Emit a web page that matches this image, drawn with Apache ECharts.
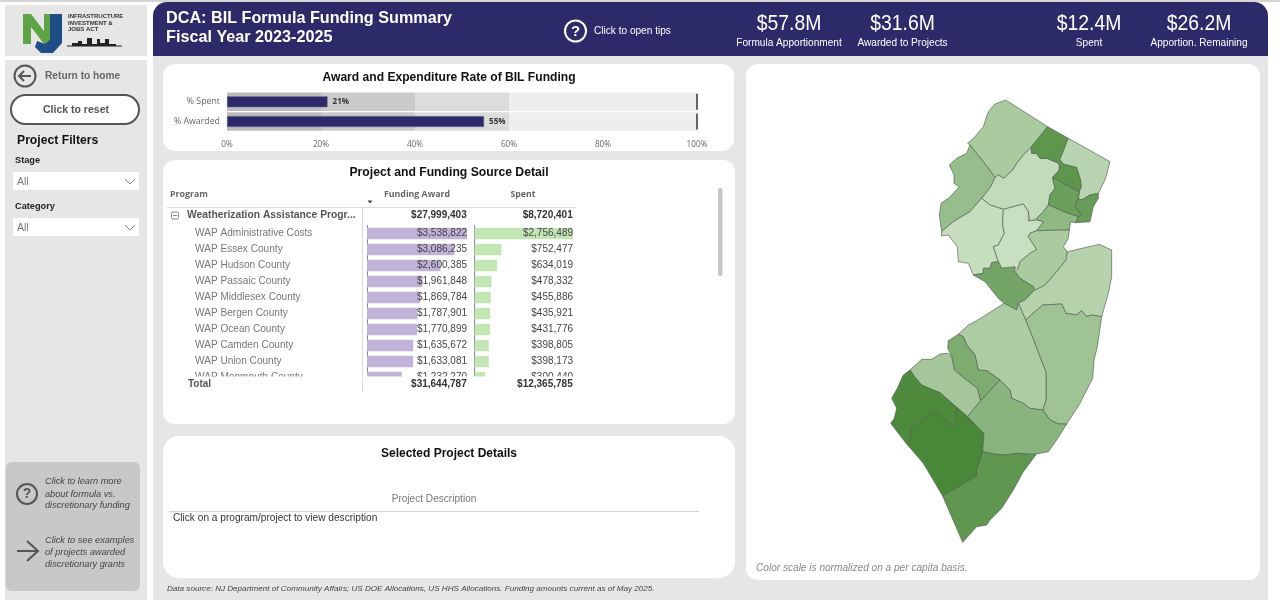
<!DOCTYPE html>
<html>
<head>
<meta charset="utf-8">
<title>DCA: BIL Formula Funding Summary</title>
<script src="https://cdn.jsdelivr.net/npm/echarts@6/dist/echarts.min.js"></script>
<style>
html,body{margin:0;padding:0;background:#fff;}
#chart{width:1280px;height:608px;}
</style>
</head>
<body>
<div id="chart"></div>
<script>
// rate chart
var rateRows = ["% Spent", "% Awarded"];
var rateValues = [21.4, 54.7];
var rateTargets = [100, 100];
var rateBands = [20, 20, 20, 40];

// funding table
var programs = ["WAP Administrative Costs", "WAP Essex County", "WAP Hudson County", "WAP Passaic County",
  "WAP Middlesex County", "WAP Bergen County", "WAP Ocean County", "WAP Camden County", "WAP Union County",
  "WAP Monmouth County"];
var awards = [3538822, 3086235, 2600385, 1961848, 1869784, 1787901, 1770899, 1635672, 1633081, 1232270];
var spent = [2756489, 752477, 634019, 478332, 455886, 435921, 431776, 398805, 398173, 300440];
var groupName = "Weatherization Assistance Progr...";
var groupTotals = [27999403, 8720401];
var grandTotals = [31644787, 12365785];

// headline numbers
var kpiValues = ["$57.8M", "$31.6M", "$12.4M", "$26.2M"];
var kpiNames = ["Formula Apportionment", "Awarded to Projects", "Spent", "Apportion. Remaining"];

var countyNames = ["Sussex", "Warren", "Morris", "Passaic", "Bergen", "Essex", "Hudson", "Union", "Hunterdon", "Somerset",
  "Middlesex", "Mercer", "Monmouth", "Ocean", "Burlington", "Camden", "Gloucester", "Salem", "Cumberland", "Atlantic", "Cape May"];
var countyValues = [24, 38, 5, 82, 13, 72, 75, 44, 2, 0, 24, 65, 15, 32, 21, 58, 28, 95, 98, 48, 81];

// county outlines, in map units (3 units = 1 screen px)
var countyShapes = {
  "Sussex": [[437,30],[500,70],[563,110],[535,145],[513,172],[490,195],[470,220],[458,240],[432,265],[415,255],[405,262],[375,222],[330,165],[323,160],[345,140],[370,110],[378,85],[385,65],[405,42]],
  "Warren": [[330,165],[375,222],[405,262],[395,285],[385,300],[365,325],[330,365],[280,395],[245,425],[238,375],[243,340],[265,325],[280,310],[298,290],[282,280],[282,255],[268,225],[290,205],[320,190]],
  "Morris": [[405,262],[415,255],[432,265],[458,240],[470,220],[490,195],[513,172],[515,190],[530,190],[540,205],[560,205],[585,215],[598,222],[598,240],[578,262],[580,275],[585,295],[570,315],[565,345],[550,365],[530,385],[510,395],[505,365],[490,342],[430,358],[390,345],[365,325],[385,300],[395,285]],
  "Passaic": [[563,110],[625,145],[600,208],[610,222],[650,232],[662,270],[664,290],[658,306],[610,280],[578,262],[598,240],[598,222],[585,215],[560,205],[540,205],[530,190],[515,190],[513,172],[535,145]],
  "Bergen": [[625,145],[750,215],[735,270],[715,310],[690,315],[665,330],[655,325],[658,306],[664,290],[662,270],[650,232],[610,222],[600,208]],
  "Essex": [[578,262],[610,280],[658,306],[655,325],[650,335],[645,348],[663,375],[655,380],[630,372],[600,360],[565,345],[570,315],[585,295],[580,275]],
  "Hudson": [[690,315],[715,310],[715,325],[700,350],[690,395],[647,398],[655,380],[663,375],[645,348],[650,335],[655,325],[665,330]],
  "Union": [[565,345],[600,360],[630,372],[655,380],[647,398],[632,395],[628,420],[530,422],[550,395],[530,390],[530,385],[550,365]],
  "Hunterdon": [[245,425],[280,395],[330,365],[365,325],[390,345],[430,358],[428,405],[433,430],[415,465],[400,470],[415,515],[395,518],[390,535],[370,535],[370,550],[340,555],[325,520],[295,515],[292,470],[265,435],[245,438]],
  "Somerset": [[430,358],[490,342],[505,365],[505,393],[530,390],[550,395],[530,422],[510,430],[505,440],[530,478],[510,490],[480,515],[475,535],[425,535],[415,515],[400,470],[415,465],[433,430],[428,405]],
  "Middlesex": [[530,422],[628,420],[625,445],[610,470],[622,485],[618,510],[590,545],[555,585],[525,602],[520,590],[480,565],[465,545],[475,535],[480,515],[510,490],[530,478],[505,440],[510,430]],
  "Mercer": [[340,555],[370,550],[370,535],[390,535],[395,518],[415,515],[425,535],[465,530],[465,545],[480,565],[520,590],[522,602],[495,630],[475,640],[470,660],[432,640],[415,625],[395,600],[375,575]],
  "Monmouth": [[622,485],[718,463],[755,480],[755,560],[745,610],[725,680],[695,675],[680,680],[665,662],[650,675],[618,670],[605,642],[548,645],[497,690],[475,640],[495,630],[522,602],[525,602],[555,585],[590,545],[618,510]],
  "Ocean": [[497,690],[548,645],[605,642],[618,670],[650,675],[665,662],[680,680],[695,675],[725,680],[712,770],[702,810],[698,865],[660,940],[620,1002],[595,1002],[570,990],[548,960],[558,930],[558,848],[520,748]],
  "Burlington": [[470,660],[475,640],[497,690],[520,748],[558,848],[558,930],[548,960],[510,955],[490,940],[455,925],[450,900],[420,870],[380,842],[355,840],[345,795],[320,765],[310,740],[295,733],[325,705],[350,692],[385,670],[432,640]],
  "Camden": [[295,733],[310,740],[320,765],[345,795],[355,840],[380,842],[420,870],[362,932],[352,895],[320,870],[300,855],[283,840],[275,800],[263,775],[265,752]],
  "Gloucester": [[150,840],[185,808],[215,808],[240,792],[263,790],[275,800],[283,840],[300,855],[320,870],[352,895],[362,932],[323,980],[290,952],[240,908],[215,898],[185,885],[165,862]],
  "Salem": [[150,840],[165,862],[185,885],[215,898],[240,908],[290,952],[285,1012],[220,960],[180,1000],[152,1012],[152,1050],[140,1062],[92,1000],[103,985],[110,955],[95,925],[112,895],[130,855]],
  "Cumberland": [[140,1062],[152,1050],[152,1012],[180,1000],[220,960],[285,1012],[290,952],[323,980],[372,1030],[368,1085],[350,1140],[350,1158],[248,1218],[190,1120]],
  "Atlantic": [[323,980],[362,932],[420,870],[450,900],[455,925],[490,940],[510,955],[548,960],[570,990],[595,1002],[620,1002],[590,1050],[565,1085],[530,1092],[470,1090],[440,1095],[400,1092],[368,1085],[372,1030]],
  "Cape May": [[368,1085],[400,1092],[440,1095],[470,1090],[528,1094],[490,1145],[460,1200],[425,1255],[390,1290],[380,1305],[350,1310],[308,1357],[248,1218],[350,1158],[350,1140]]
};

var FONT = '"Liberation Sans"';
var UIFONT = '"Open Sans"';
var NAVY = "#2d2a69";
var ICON = "#555555";

function money(v) {
  return "$" + v.toLocaleString("en-US");
}

function panel(x, y, w, h, fill, r, z) {
  return { type: "rect", z: z || 0, shape: { x: x, y: y, width: w, height: h, r: r || 0 }, style: { fill: fill } };
}

// y is the middle of the text as it looks on screen
function txt(x, y, text, font, fill, align, z) {
  return {
    type: "text", z: z || 1,
    style: { x: x, y: y + 1, text: text, font: font, fill: fill, textAlign: align || "left", textVerticalAlign: "middle" }
  };
}

function line(points, stroke, width, z) {
  return { type: "polyline", z: z || 1, shape: { points: points }, style: { stroke: stroke, lineWidth: width, fill: null } };
}

function ring(cx, cy, r, stroke, width, fill) {
  return { type: "circle", z: 1, shape: { cx: cx, cy: cy, r: r }, style: { stroke: stroke, lineWidth: width, fill: fill || null } };
}

// build geojson from the outlines, y flipped because geojson is north up
var geoJson = { type: "FeatureCollection", features: [] };
var minX = Infinity, maxX = -Infinity, minY = Infinity, maxY = -Infinity;
countyNames.forEach(function (name) {
  var pts = countyShapes[name].map(function (p) {
    minX = Math.min(minX, p[0]); maxX = Math.max(maxX, p[0]);
    minY = Math.min(minY, p[1]); maxY = Math.max(maxY, p[1]);
    return [p[0], -p[1]];
  });
  pts.push(pts[0]);
  geoJson.features.push({
    type: "Feature", properties: { name: name },
    geometry: { type: "Polygon", coordinates: [pts] }
  });
});
echarts.registerMap("nj", geoJson);

var elements = [
  // page background
  panel(0, 0, 1280, 2, "#d4d4d4"),
  panel(5, 5, 142, 51, "#e6e6e6"),
  panel(5, 60, 142, 540, "#e6e6e6"),
  panel(153, 40, 1115, 560, "#e6e6e6"),
  panel(153, 2, 1115, 54, NAVY, [14, 14, 0, 0]),
  // cards
  panel(163, 64, 571, 87, "#ffffff", 12),
  panel(163, 160, 572, 264, "#ffffff", 12),
  panel(163, 436, 572, 142, "#ffffff", 16),
  panel(746, 64, 514, 516, "#ffffff", 12),

  // logo
  { type: "polygon", z: 1, shape: { points: [[23,14],[31,14],[44,31],[44,14],[50,14],[50,44],[44,44],[31,27],[31,44],[23,44]] }, style: { fill: "#5fa347" } },
  { type: "polygon", z: 1, shape: { points: [[50,14],[62,14],[62,43],[53,53],[41,53],[35,47],[37,41],[45,44],[50,40]] }, style: { fill: "#1f4e87" } },
  txt(68, 15, "INFRASTRUCTURE", 'bold 6px ' + FONT, "#333333"),
  txt(68, 22, "INVESTMENT &", 'bold 6px ' + FONT, "#333333"),
  txt(68, 28.5, "JOBS ACT", 'bold 6px ' + FONT, "#333333"),
  line([[67,46],[122,46]], "#222222", 1),
  { type: "polygon", z: 1, shape: { points: [[72,46],[72,43],[78,43],[78,41],[82,41],[82,44],[87,44],[87,38],[92,38],[92,44],[97,44],[97,39],[100,39],[100,43],[105,43],[105,39],[109,39],[109,44],[116,44],[116,46]] }, style: { fill: "#222222" } },

  // sidebar
  ring(25, 76, 10.5, ICON, 2),
  line([[31,76],[19,76]], ICON, 2),
  line([[24,71],[19,76],[24,81]], ICON, 2),
  txt(45, 75.5, "Return to home", 'bold 10.2px ' + FONT, "#666666"),
  { type: "rect", z: 1, shape: { x: 11, y: 95, width: 128, height: 29, r: 14.5 }, style: { fill: "#ffffff", stroke: ICON, lineWidth: 2 } },
  txt(76, 109, "Click to reset", 'bold 10.5px ' + FONT, "#555555", "center"),
  txt(17, 140, "Project Filters", 'bold 12.2px ' + FONT, "#111111"),
  txt(15, 159.5, "Stage", 'bold 9.2px ' + FONT, "#222222"),
  panel(13, 172, 126, 18, "#ffffff"),
  txt(17, 181, "All", '10.5px ' + FONT, "#777777"),
  line([[125,179],[130,184],[135,179]], "#888888", 1),
  txt(15, 205.5, "Category", 'bold 9.2px ' + FONT, "#222222"),
  panel(13, 218, 126, 18, "#ffffff"),
  txt(17, 227, "All", '10.5px ' + FONT, "#777777"),
  line([[125,225],[130,230],[135,225]], "#888888", 1),

  // sidebar help box
  panel(5.5, 462, 134.5, 129, "#c8c8c8", 6),
  ring(27, 494, 10, ICON, 2),
  txt(27, 493.5, "?", 'bold 14px ' + FONT, ICON, "center"),
  txt(45, 480.5, "Click to learn more", 'italic 9.2px ' + FONT, "#444444"),
  txt(45, 493, "about formula vs.", 'italic 9.2px ' + FONT, "#444444"),
  txt(45, 504.5, "discretionary funding", 'italic 9.2px ' + FONT, "#444444"),
  line([[17,551],[37,551]], ICON, 2),
  line([[27,541],[38,551],[27,561]], ICON, 2),
  txt(45, 539.5, "Click to see examples", 'italic 9.2px ' + FONT, "#444444"),
  txt(45, 551.5, "of projects awarded", 'italic 9.2px ' + FONT, "#444444"),
  txt(45, 563, "discretionary grants", 'italic 9.2px ' + FONT, "#444444"),

  // header
  txt(166, 17.5, "DCA: BIL Formula Funding Summary", 'bold 16.2px ' + FONT, "#ffffff"),
  txt(166, 36.5, "Fiscal Year 2023-2025", 'bold 16.2px ' + FONT, "#ffffff"),
  ring(575.5, 31, 10.5, "#ffffff", 2),
  txt(575.5, 30.5, "?", 'bold 15px ' + FONT, "#ffffff", "center"),
  txt(594, 30, "Click to open tips", '10.1px ' + FONT, "#ffffff"),

  // card titles
  txt(449, 77, "Award and Expenditure Rate of BIL Funding", 'bold 12.1px ' + FONT, "#111111", "center"),
  txt(449, 171.5, "Project and Funding Source Detail", 'bold 12.2px ' + FONT, "#111111", "center"),
  txt(449, 452.5, "Selected Project Details", 'bold 12px ' + FONT, "#111111", "center"),

  // table frame, drawn under the bars
  txt(170, 193, "Program", 'bold 8.8px ' + UIFONT, "#666666"),
  txt(417, 193, "Funding Award", 'bold 8.8px ' + UIFONT, "#666666", "center"),
  txt(523, 193, "Spent", 'bold 8.8px ' + UIFONT, "#666666", "center"),
  { type: "polygon", z: 1, shape: { points: [[367.5,200.5],[372.5,200.5],[370,203.5]] }, style: { fill: "#444444" } },
  line([[167,207.5],[576,207.5]], "#dddddd", 1),
  line([[362.5,208],[362.5,392]], "#dddddd", 1),
  { type: "rect", z: 1, shape: { x: 171.5, y: 212, width: 7, height: 7, r: 1.5 }, style: { fill: null, stroke: "#888888", lineWidth: 1 } },
  line([[173,215.5],[177,215.5]], "#888888", 1),
  txt(187, 214.5, groupName, 'bold 10.3px ' + FONT, "#555555"),
  txt(466.7, 214.5, money(groupTotals[0]), 'bold 10px ' + FONT, "#333333", "right"),
  txt(572.7, 214.5, money(groupTotals[1]), 'bold 10px ' + FONT, "#333333", "right"),

  // hides the row that scrolls off under the total line
  panel(165, 376.5, 410, 16, "#ffffff", 0, 10),
  line([[362.5,376],[362.5,392]], "#dddddd", 1, 11),
  panel(718, 188, 4.5, 88, "#c6c6c6", 2),
  txt(188, 383.5, "Total", 'bold 10px ' + FONT, "#555555", "left", 11),
  txt(466.7, 383.5, money(grandTotals[0]), 'bold 10px ' + FONT, "#333333", "right", 11),
  txt(572.7, 383.5, money(grandTotals[1]), 'bold 10px ' + FONT, "#333333", "right", 11),

  // description
  txt(434, 498, "Project Description", '10.1px ' + FONT, "#777777", "center"),
  line([[169,511.5],[699,511.5]], "#d4d4d4", 1),
  txt(173, 517, "Click on a program/project to view description", '10.15px ' + FONT, "#333333"),
  txt(167, 588, "Data source: NJ Department of Community Affairs; US DOE Allocations, US HHS Allocations. Funding amounts current as of May 2025.", 'italic 8.1px ' + FONT, "#444444"),
  txt(756, 567.5, "Color scale is normalized on a per capita basis.", 'italic 10.1px ' + FONT, "#888888")
];

var kpiX = [789, 902.5, 1089, 1199];
kpiValues.forEach(function (v, i) {
  // squeezed because no condensed face is installed
  elements.push({
    type: "text", z: 1, x: kpiX[i], y: 24, scaleX: 0.88,
    style: { x: 0, y: 0, text: v, font: '22px ' + FONT, fill: "#ffffff", textAlign: "center", textVerticalAlign: "middle" }
  });
  elements.push(txt(kpiX[i], 42, kpiNames[i], '10.1px ' + FONT, "#ffffff", "center"));
});

var bandColors = ["#bcbcbc", "#cacaca", "#dcdcdc", "#eeeeee"];
var series = rateBands.map(function (w, i) {
  return {
    name: "band" + i, type: "bar", stack: "bands", barWidth: 18.5, xAxisIndex: 0, yAxisIndex: 0, silent: true,
    itemStyle: { color: bandColors[i] }, data: rateRows.map(function () { return w; })
  };
});

series.push({
  name: "Rate", type: "bar", barWidth: 11, xAxisIndex: 0, yAxisIndex: 1, z: 4,
  itemStyle: { color: NAVY, borderColor: "#7877a6", borderWidth: 0.5 },
  label: {
    show: true, position: "right", distance: 5, color: "#333333",
    fontFamily: "Open Sans", fontWeight: "bold", fontSize: 8,
    formatter: function (p) { return Math.round(p.value) + "%"; }
  },
  data: rateValues
});
series.push({
  name: "Target", type: "scatter", xAxisIndex: 0, yAxisIndex: 1, z: 5, symbol: "rect", symbolSize: [1.5, 16],
  itemStyle: { color: "#333333", opacity: 1 },
  data: rateTargets.map(function (t, i) { return [t, i]; })
});
series.push({
  name: "Funding Award", type: "bar", barWidth: 11.5, xAxisIndex: 1, yAxisIndex: 2,
  itemStyle: { color: "#c1b2d8" }, data: awards
});
series.push({
  name: "Spent", type: "bar", barWidth: 11.5, xAxisIndex: 2, yAxisIndex: 4,
  itemStyle: { color: "#c3e5b4" }, data: spent
});
series.push({
  name: "Counties", type: "map", map: "nj", aspectScale: 1, roam: false, silent: true, selectedMode: false,
  left: 860 + minX / 3, top: 90 + minY / 3, width: (maxX - minX) / 3, height: (maxY - minY) / 3,
  label: { show: false }, emphasis: { disabled: true },
  itemStyle: { borderColor: "#4f5f4d", borderWidth: 0.65 },
  data: countyNames.map(function (n, i) { return { name: n, value: countyValues[i] }; })
});

var rowLabel = { color: "#777777", fontFamily: "Liberation Sans", fontSize: 10.1, padding: [3, 0, 0, 0] };
var valueLabel = { color: "#444444", fontFamily: "Liberation Sans", fontSize: 10, padding: [3, 0, 0, 0] };
var rowAxisLine = { show: true, lineStyle: { color: "#555555", width: 0.7 } };

var myChart = echarts.init(document.getElementById("chart"));
var option = {
  animation: false,
  graphic: { elements: elements },
  grid: [
    { left: 227, top: 92, width: 470, height: 39.4 },
    { left: 367, top: 225.5, width: 100, height: 160 },
    { left: 474.5, top: 225.5, width: 98.5, height: 160 }
  ],
  xAxis: [
    {
      gridIndex: 0, type: "value", min: 0, max: 100, interval: 20,
      axisLine: { show: false }, axisTick: { show: false }, splitLine: { show: false },
      axisLabel: { color: "#666666", fontFamily: "Open Sans", fontSize: 8.2, margin: 8, padding: [1, 0, 0, 0], formatter: "{value}%" }
    },
    { gridIndex: 1, type: "value", min: 0, max: awards[0], show: false },
    { gridIndex: 2, type: "value", min: 0, max: spent[0], show: false }
  ],
  yAxis: [
    {
      gridIndex: 0, type: "category", inverse: true, data: rateRows,
      axisLine: { show: false }, axisTick: { show: false },
      axisLabel: { color: "#666666", fontFamily: "Open Sans", fontSize: 8.8, margin: 7, padding: [2, 0, 0, 0] }
    },
    { gridIndex: 0, type: "category", inverse: true, data: rateRows, show: false },
    {
      gridIndex: 1, type: "category", inverse: true, data: programs,
      axisLine: rowAxisLine, axisTick: { show: false },
      axisLabel: Object.assign({ align: "left", margin: 172 }, rowLabel)
    },
    {
      gridIndex: 1, type: "category", inverse: true, position: "right", z: 5, data: awards.map(money),
      axisLine: { show: false }, axisTick: { show: false },
      axisLabel: Object.assign({ inside: true, margin: 0 }, valueLabel)
    },
    {
      gridIndex: 2, type: "category", inverse: true, data: programs,
      axisLine: rowAxisLine, axisTick: { show: false }, axisLabel: { show: false }
    },
    {
      gridIndex: 2, type: "category", inverse: true, position: "right", z: 5, data: spent.map(money),
      axisLine: { show: false }, axisTick: { show: false },
      axisLabel: Object.assign({ inside: true, margin: 0 }, valueLabel)
    }
  ],
  visualMap: {
    show: false, type: "continuous", seriesIndex: series.length - 1, min: 0, max: 100,
    inRange: { color: ["#c9dfc1", "#468635"] }
  },
  series: series
};
myChart.setOption(option);
</script>
</body>
</html>
